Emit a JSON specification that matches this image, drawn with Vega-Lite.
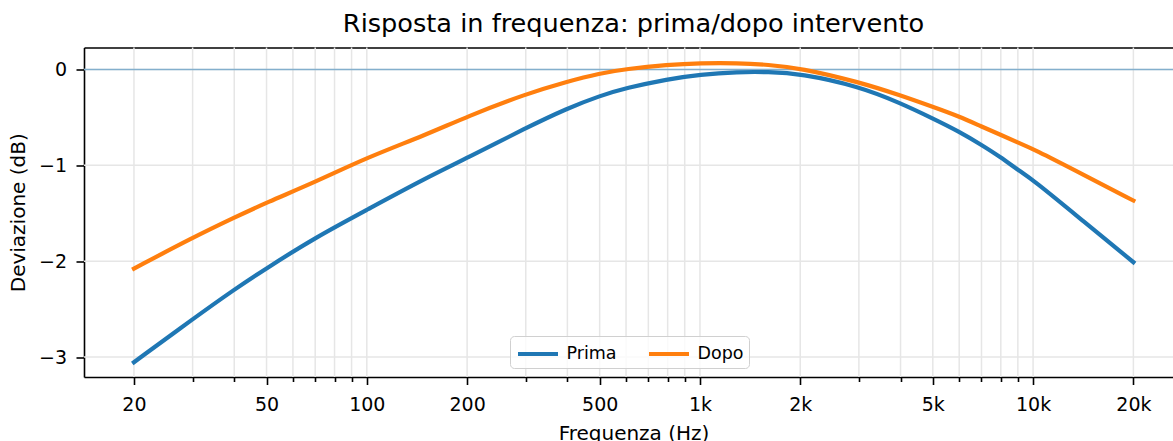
{
  "$schema": "https://vega.github.io/schema/vega-lite/v6.json",
  "width": 1089,
  "height": 329.5,
  "autosize": {"type": "none"},
  "padding": {"left": 84, "top": 47.5, "right": 0, "bottom": 64},
  "background": "white",
  "title": {
    "text": "Risposta in frequenza: prima/dopo intervento",
    "fontSize": 25.6,
    "font": "DejaVu Sans",
    "fontWeight": "normal",
    "color": "black",
    "anchor": "middle",
    "frame": "group",
    "dx": 5,
    "dy": 26,
    "baseline": "alphabetic",
    "offset": 15
  },
  "datasets": {
    "gridx": [
      {"f": 20}, {"f": 30}, {"f": 40}, {"f": 50}, {"f": 60}, {"f": 70}, {"f": 80}, {"f": 90},
      {"f": 100}, {"f": 200}, {"f": 300}, {"f": 400}, {"f": 500}, {"f": 600}, {"f": 700}, {"f": 800}, {"f": 900},
      {"f": 1000}, {"f": 2000}, {"f": 3000}, {"f": 4000}, {"f": 5000}, {"f": 6000}, {"f": 7000}, {"f": 8000}, {"f": 9000},
      {"f": 10000}, {"f": 20000}
    ],
    "gridy": [{"v": -3}, {"v": -2}, {"v": -1}, {"v": 0}],
    "zero": [{"v": 0}],
    "curves": [
      {"s": "Prima", "f": 20, "v": -3.054},
      {"s": "Prima", "f": 30, "v": -2.605},
      {"s": "Prima", "f": 40, "v": -2.295},
      {"s": "Prima", "f": 50, "v": -2.073},
      {"s": "Prima", "f": 70, "v": -1.754},
      {"s": "Prima", "f": 100, "v": -1.465},
      {"s": "Prima", "f": 150, "v": -1.135},
      {"s": "Prima", "f": 200, "v": -0.925},
      {"s": "Prima", "f": 300, "v": -0.61},
      {"s": "Prima", "f": 400, "v": -0.405},
      {"s": "Prima", "f": 500, "v": -0.275},
      {"s": "Prima", "f": 600, "v": -0.193},
      {"s": "Prima", "f": 800, "v": -0.1},
      {"s": "Prima", "f": 1000, "v": -0.052},
      {"s": "Prima", "f": 1300, "v": -0.025},
      {"s": "Prima", "f": 1600, "v": -0.025},
      {"s": "Prima", "f": 2000, "v": -0.042},
      {"s": "Prima", "f": 3000, "v": -0.175},
      {"s": "Prima", "f": 4000, "v": -0.35},
      {"s": "Prima", "f": 5000, "v": -0.51},
      {"s": "Prima", "f": 6000, "v": -0.647},
      {"s": "Prima", "f": 7000, "v": -0.786},
      {"s": "Prima", "f": 8000, "v": -0.915},
      {"s": "Prima", "f": 9000, "v": -1.047},
      {"s": "Prima", "f": 10000, "v": -1.151},
      {"s": "Prima", "f": 14200, "v": -1.587},
      {"s": "Prima", "f": 20000, "v": -2.01},
      {"s": "Dopo", "f": 20, "v": -2.077},
      {"s": "Dopo", "f": 30, "v": -1.754},
      {"s": "Dopo", "f": 40, "v": -1.545},
      {"s": "Dopo", "f": 50, "v": -1.388},
      {"s": "Dopo", "f": 70, "v": -1.175},
      {"s": "Dopo", "f": 100, "v": -0.919},
      {"s": "Dopo", "f": 150, "v": -0.684},
      {"s": "Dopo", "f": 200, "v": -0.49},
      {"s": "Dopo", "f": 300, "v": -0.255},
      {"s": "Dopo", "f": 400, "v": -0.125},
      {"s": "Dopo", "f": 500, "v": -0.04},
      {"s": "Dopo", "f": 600, "v": 0.005},
      {"s": "Dopo", "f": 800, "v": 0.05},
      {"s": "Dopo", "f": 1000, "v": 0.067},
      {"s": "Dopo", "f": 1300, "v": 0.068},
      {"s": "Dopo", "f": 1600, "v": 0.05},
      {"s": "Dopo", "f": 2000, "v": 0.015},
      {"s": "Dopo", "f": 3000, "v": -0.13},
      {"s": "Dopo", "f": 4000, "v": -0.27},
      {"s": "Dopo", "f": 5000, "v": -0.39},
      {"s": "Dopo", "f": 6000, "v": -0.49},
      {"s": "Dopo", "f": 7000, "v": -0.595},
      {"s": "Dopo", "f": 8000, "v": -0.682},
      {"s": "Dopo", "f": 9000, "v": -0.762},
      {"s": "Dopo", "f": 10000, "v": -0.828},
      {"s": "Dopo", "f": 14200, "v": -1.1},
      {"s": "Dopo", "f": 20000, "v": -1.367}
    ]
  },
  "layer": [
    {
      "data": {"name": "gridx"},
      "mark": {"type": "rule", "color": "#e6e6e6", "strokeWidth": 1.5},
      "encoding": {
        "x": {
          "field": "f", "type": "quantitative",
          "scale": {"type": "log", "domain": [14.16, 26300], "nice": false, "zero": false},
          "axis": {"orient": "top", "labels": false, "ticks": false, "grid": false, "domain": true, "domainColor": "black", "domainWidth": 1.6, "title": null}
        }
      }
    },
    {
      "data": {"name": "gridy"},
      "mark": {"type": "rule", "color": "#e6e6e6", "strokeWidth": 1.5},
      "encoding": {
        "y": {
          "field": "v", "type": "quantitative",
          "scale": {"domain": [-3.208, 0.2296], "nice": false, "zero": false},
          "axis": null
        }
      }
    },
    {
      "data": {"name": "zero"},
      "mark": {"type": "rule", "color": "#1f77b4", "opacity": 0.5, "strokeWidth": 1.6},
      "encoding": {
        "y": {
          "field": "v", "type": "quantitative",
          "scale": {"domain": [-3.208, 0.2296], "nice": false, "zero": false},
          "axis": null
        }
      }
    },
    {
      "data": {"name": "curves"},
      "mark": {"type": "line", "strokeWidth": 4.2, "interpolate": "basis", "strokeCap": "square"},
      "encoding": {
        "x": {
          "field": "f", "type": "quantitative",
          "scale": {"type": "log", "domain": [14.16, 26300], "nice": false, "zero": false},
          "axis": {
            "orient": "bottom",
            "values": [20, 30, 40, 50, 60, 70, 80, 90, 100, 200, 300, 400, 500, 600, 700, 800, 900, 1000, 2000, 3000, 4000, 5000, 6000, 7000, 8000, 9000, 10000, 20000],
            "labelExpr": "indexof([20,50,100,200,500,1000,2000,5000,10000,20000], datum.value) >= 0 ? (datum.value >= 1000 ? (datum.value / 1000) + 'k' : '' + datum.value) : ''",
            "labelFlush": false,
            "labelOverlap": false,
            "labelFontSize": 19,
            "labelPadding": 11,
            "tickSize": {"condition": {"test": "indexof([20,50,100,200,500,1000,2000,5000,10000,20000], datum.value) < 0", "value": 4.5}, "value": 7.5},
            "tickWidth": 1.6,
            "tickColor": "black",
            "domain": true,
            "domainColor": "black",
            "domainWidth": 1.6,
            "grid": false,
            "title": "Frequenza (Hz)",
            "titleFontSize": 20,
            "titleBaseline": "alphabetic",
            "titleAlign": "center",
            "titleX": 549.5,
            "titleY": 62.6
          }
        },
        "y": {
          "field": "v", "type": "quantitative",
          "scale": {"domain": [-3.208, 0.2296], "nice": false, "zero": false},
          "axis": {
            "orient": "left",
            "values": [-3, -2, -1, 0],
            "labelExpr": "datum.value < 0 ? '\u2212' + abs(datum.value) : '' + datum.value",
            "labelFontSize": 19,
            "labelPadding": 9.5,
            "tickSize": 8,
            "tickWidth": 1.6,
            "tickColor": "black",
            "domain": true,
            "domainColor": "black",
            "domainWidth": 1.6,
            "grid": false,
            "title": "Deviazione (dB)",
            "titleFontSize": 20,
            "titleAngle": -90,
            "titleBaseline": "alphabetic",
            "titleAlign": "center",
            "titleX": -59.5,
            "titleY": 164.75
          }
        },
        "color": {
          "field": "s", "type": "nominal",
          "scale": {"domain": ["Prima", "Dopo"], "range": ["#1f77b4", "#ff7f0e"]},
          "legend": {
            "orient": "none",
            "legendX": 426,
            "legendY": 288.5,
            "direction": "horizontal",
            "title": null,
            "symbolType": "M-2,0H2",
            "symbolSize": 400,
            "symbolOffset": 10,
            "symbolStrokeWidth": 4.2,
            "symbolFillColor": "transparent",
            "labelFontSize": 17.5,
            "labelOffset": 16,
            "columnPadding": 23,
            "padding": 5.5,
            "strokeColor": "#d0d0d0",
            "fillColor": "rgba(255,255,255,0.8)",
            "cornerRadius": 4
          }
        }
      }
    }
  ],
  "resolve": {"axis": {"x": "independent", "y": "independent"}},
  "config": {
    "view": {"stroke": null},
    "font": "DejaVu Sans",
    "axis": {
      "labelFont": "DejaVu Sans",
      "titleFont": "DejaVu Sans",
      "labelColor": "black",
      "titleColor": "black",
      "titleFontWeight": "normal"
    },
    "legend": {"labelFont": "DejaVu Sans", "labelColor": "black"}
  }
}
